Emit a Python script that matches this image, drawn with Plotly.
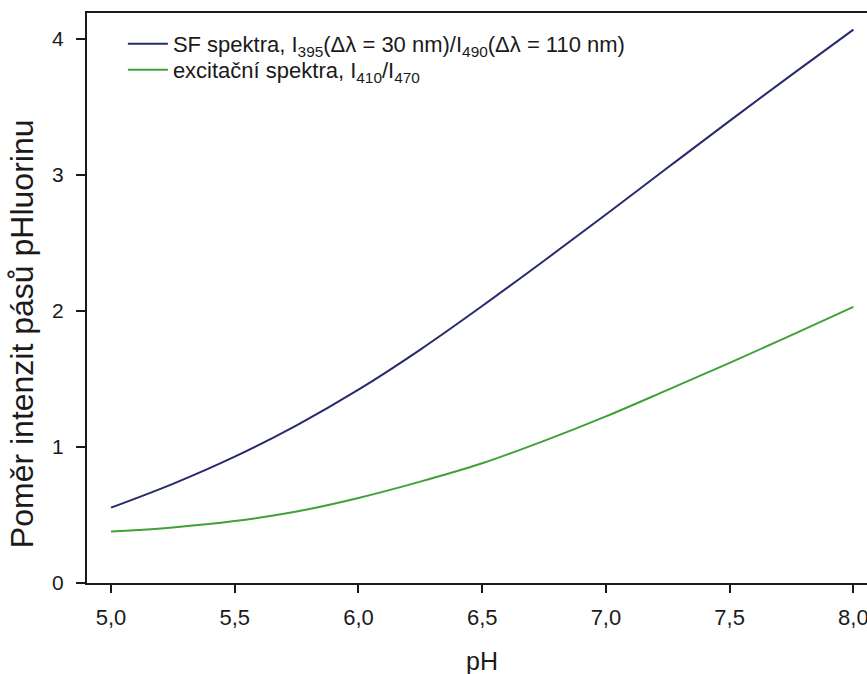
import plotly.graph_objects as go

# pH grid and the two measured ratio curves
ph = [5.0, 5.25, 5.5, 5.75, 6.0, 6.25, 6.5, 6.75, 7.0, 7.25, 7.5, 7.75, 8.0]
sf_ratio = [0.554, 0.729, 0.929, 1.159, 1.421, 1.716, 2.036, 2.369, 2.709, 3.054, 3.397, 3.735, 4.068]
exc_ratio = [0.378, 0.408, 0.455, 0.525, 0.625, 0.745, 0.88, 1.045, 1.225, 1.42, 1.618, 1.822, 2.03]

x_ticks = [5.0, 5.5, 6.0, 6.5, 7.0, 7.5, 8.0]
y_ticks = [0, 1, 2, 3, 4]

sf_name = "SF spektra, I<sub>395</sub>(Δλ = 30 nm)/I<sub>490</sub>(Δλ = 110 nm)"
exc_name = "excitační spektra, I<sub>410</sub>/I<sub>470</sub>"

font = "Liberation Sans, Arial, sans-serif"
ink = "#1a1a1a"

fig = go.Figure()
fig.add_trace(go.Scatter(x=ph, y=sf_ratio, mode="lines", name=sf_name, legend="legend",
                         line=dict(color="#272a6c", width=2, shape="spline")))
fig.add_trace(go.Scatter(x=ph, y=exc_ratio, mode="lines", name=exc_name, legend="legend2",
                         line=dict(color="#41a03a", width=2, shape="spline")))

legend_style = dict(xanchor="left", yanchor="middle", bgcolor="rgba(0,0,0,0)",
                    font=dict(size=22, family=font, color=ink), itemwidth=40)

fig.update_layout(
    width=867, height=674,
    margin=dict(l=87, r=0, t=13, b=91),
    paper_bgcolor="white", plot_bgcolor="white",
    separators=", ",
    font=dict(family=font, size=22, color=ink),
    showlegend=True,
    legend=dict(x=0.046, y=0.9456, **legend_style),
    legend2=dict(x=0.046, y=0.9000, **legend_style),
)

fig.update_xaxes(
    range=[4.903, 8.055], tickvals=x_ticks, tickformat=".1f",
    showgrid=False, zeroline=False,
    showline=True, linecolor=ink, linewidth=2, mirror=True,
    ticks="outside", ticklen=8, tickwidth=2, tickcolor=ink,
    ticklabelstandoff=6, tickfont=dict(size=22), ticklabeloverflow="allow",
    automargin=False,
)
fig.update_yaxes(
    range=[0, 4.19], tickvals=y_ticks,
    showgrid=False, zeroline=False,
    showline=True, linecolor=ink, linewidth=2, mirror=False,
    ticks="outside", ticklen=9, tickwidth=2, tickcolor=ink,
    ticklabelstandoff=8, tickfont=dict(size=21),
    automargin=False,
)

# Axis titles
fig.add_annotation(text="pH", xref="paper", yref="paper", x=0.506, y=-0.137,
                   xanchor="center", yanchor="middle", showarrow=False,
                   font=dict(size=25, family=font, color=ink))
fig.add_annotation(text="Poměr intenzit pásů pHluorinu", xref="paper", yref="paper",
                   x=-0.083, y=0.437, xanchor="center", yanchor="middle", textangle=-90,
                   showarrow=False, font=dict(size=32, family=font, color=ink))

fig.write_html("out.html")
